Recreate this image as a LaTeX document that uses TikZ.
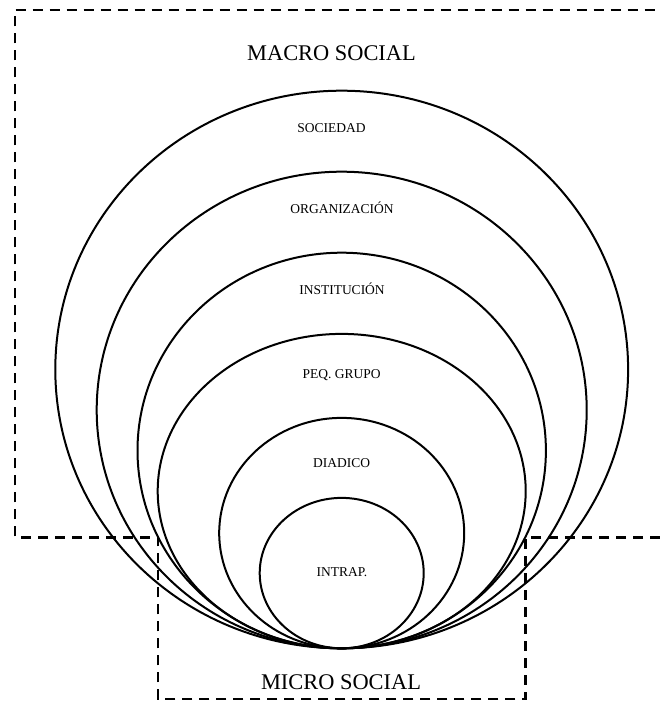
\documentclass[tikz,border=0pt]{standalone}
\usepackage{fontspec}
\setmainfont{Liberation Serif}
\begin{document}
\begin{tikzpicture}[x=1pt,y=1pt,
  ring/.style={line width=2pt},
  frame/.style={line width=2.9pt,dash pattern=on 10pt off 7pt},
  lbl/.style={font=\fontsize{13.5}{16}\selectfont,anchor=base,inner sep=0pt},
  biglbl/.style={font=\fontsize{22.4}{26}\selectfont,anchor=base,inner sep=0pt}]
\useasboundingbox (0,0) rectangle (660,701);
\clip (0,0) rectangle (660,701);
% frame (macro + micro)
\coordinate (fA) at (660,163.3);
\coordinate (fB) at (525.7,163.3);
\coordinate (fC) at (525.7,2);
\coordinate (fD) at (158,2);
\coordinate (fE) at (158,163.3);
\coordinate (fF) at (15,163.3);
\coordinate (fG) at (15,691);
\coordinate (fH) at (665,691);
\draw[frame] (fA) -- (fB) -- (fC) -- (fD) -- (fE) -- (fF) -- (fG) -- (fH);
% nested ellipses tangent at bottom
\coordinate (T) at (341.7,52.7);
\draw[ring] ([yshift=278.8pt]T) ellipse [x radius=286.4, y radius=278.8];
\draw[ring] ([yshift=238.3pt]T) ellipse [x radius=245, y radius=238.3];
\draw[ring] ([yshift=197.8pt]T) ellipse [x radius=204.2, y radius=197.8];
\draw[ring] ([yshift=157.2pt]T) ellipse [x radius=184, y radius=157.2];
\draw[ring] ([yshift=115.2pt]T) ellipse [x radius=122.5, y radius=115.2];
\draw[ring] ([yshift=75.2pt]T) ellipse [x radius=82, y radius=75.2];
% labels
\node[biglbl] (macro) at (331.5,640.6) {MACRO SOCIAL};
\node[lbl] (soc) at (331.5,568.2) {SOCIEDAD};
\node[lbl] (org) at (342,487.5) {ORGANIZACIÓN};
\node[lbl] (inst) at (342,406.5) {INSTITUCIÓN};
\node[lbl] (peq) at (341.7,322.5) {PEQ. GRUPO};
\node[lbl] (dia) at (341.7,233.2) {DIADICO};
\node[lbl] (intra) at (342,124.8) {INTRAP.};
\node[biglbl] (micro) at (341,11.9) {MICRO SOCIAL};
\end{tikzpicture}
\end{document}
